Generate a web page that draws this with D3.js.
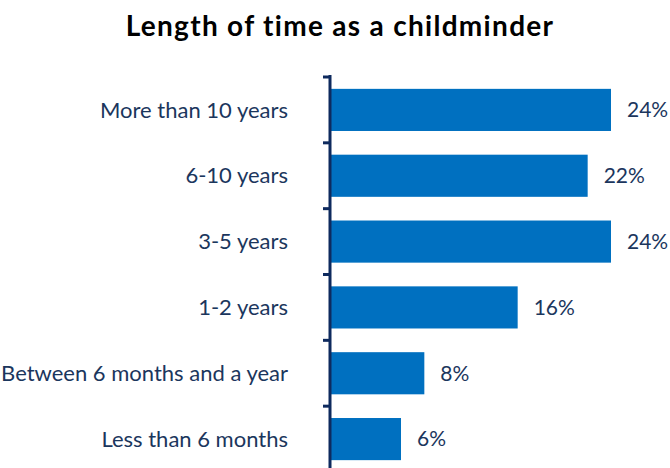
<!DOCTYPE html>
<html><head><meta charset="utf-8">
<script src="https://cdn.jsdelivr.net/npm/d3@7"></script>
<style>body{margin:0;background:#fff}svg{display:block}</style>
</head><body>
<script>
const categories = ["More than 10 years","6-10 years","3-5 years","1-2 years","Between 6 months and a year","Less than 6 months"];
const values = [24,22,24,16,8,6];
const title = "Length of time as a childminder";

const W=670,H=468;
const svg=d3.select("body").append("svg").attr("width",W).attr("height",H);
const axisX=330;
const x=d3.scaleLinear().domain([0,24]).range([axisX+1,611]);
const y=d3.scaleBand().domain(categories).range([77,472]).paddingInner(0.36).paddingOuter(0.18);
const navy="#0E2A5E", text="#1B365D";

svg.append("text").attr("x",340).attr("y",36).attr("text-anchor","middle")
  .style("font-family","Lato, sans-serif").style("font-weight","bold").style("font-size","28px")
  .style("letter-spacing","1.3px").attr("fill","#000").text(title);

svg.selectAll("rect.bar").data(values).join("rect").attr("class","bar")
  .attr("x",x(0)).attr("y",(d,i)=>y(categories[i])).attr("width",d=>x(d)-x(0)).attr("height",y.bandwidth()).attr("fill","#0070C0");

svg.selectAll("text.val").data(values).join("text").attr("class","val")
  .attr("x",d=>x(d)+16).attr("y",(d,i)=>y(categories[i])+y.bandwidth()/2).attr("dy","0.35em")
  .style("font-family","Lato, sans-serif").style("font-size","21px").attr("fill",text).text(d=>d+"%");

svg.selectAll("text.cat").data(categories).join("text").attr("class","cat")
  .attr("x",288).attr("y",d=>y(d)+y.bandwidth()/2).attr("dy","0.35em").attr("text-anchor","end")
  .style("font-family","Lato, sans-serif").style("font-size","22px").attr("fill",text).text(d=>d);

// axis line and boundary ticks
const step=y.step();
const bounds=d3.range(categories.length+1).map(i=>77+i*step);
svg.append("line").attr("x1",axisX).attr("x2",axisX).attr("y1",75).attr("y2",H).attr("stroke",navy).attr("stroke-width",3);
svg.selectAll("line.tk").data(bounds).join("line").attr("class","tk")
  .attr("x1",323).attr("x2",axisX).attr("y1",d=>d).attr("y2",d=>d).attr("stroke",navy).attr("stroke-width",3);
</script>
</body></html>
